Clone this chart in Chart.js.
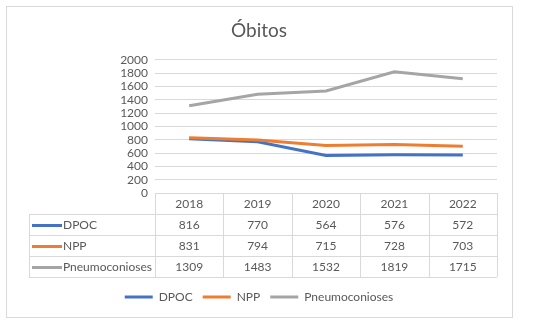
<!DOCTYPE html>
<html>
<head>
<meta charset="utf-8">
<title>Óbitos</title>
<script src="https://cdn.jsdelivr.net/npm/chart.js@4.4.1/dist/chart.umd.min.js"></script>
<style>
	html, body { margin: 0; padding: 0; background: #ffffff; }
	#myChart { display: block; }
</style>
</head>
<body>
<canvas id="myChart" width="546" height="330"></canvas>
<script>
// dados do gráfico
const anos = ['2018', '2019', '2020', '2021', '2022'];
const dpoc = [816, 770, 564, 576, 572];
const npp = [831, 794, 715, 728, 703];
const pneumoconioses = [1309, 1483, 1532, 1819, 1715];
const nomesSeries = ['DPOC', 'NPP', 'Pneumoconioses'];
const coresSeries = ['#4472C4', '#ED7D31', '#A5A5A5'];

const corTexto = '#595959';
const corGrade = '#D9D9D9';
const fonte = 'Lato, "Open Sans", sans-serif';

// moldura e fundo branco
const moldura = {
	id: 'moldura',
	beforeDraw(chart) {
		const c = chart.ctx;
		c.save();
		c.fillStyle = '#ffffff';
		c.fillRect(0, 0, chart.width, chart.height);
		c.strokeStyle = corGrade;
		c.lineWidth = 1;
		c.strokeRect(6.5, 6.5, 506, 311);
		c.restore();
	}
};

// tabela de dados embaixo do gráfico
const tabelaDados = {
	id: 'tabelaDados',
	afterDraw(chart) {
		const c = chart.ctx;
		const area = chart.chartArea;
		const xs = chart.scales.x;
		const larg = (area.right - area.left) / anos.length;
		const alt = 21;
		const topo = area.bottom;
		const esq = 29;
		const valores = [dpoc, npp, pneumoconioses];

		c.save();
		c.strokeStyle = corGrade;
		c.lineWidth = 1;
		c.beginPath();
		// linhas horizontais
		c.moveTo(area.left, topo + 0.5);
		c.lineTo(area.right, topo + 0.5);
		for (let i = 1; i <= 4; i++) {
			const y = Math.round(topo + i * alt) + 0.5;
			c.moveTo(esq, y);
			c.lineTo(area.right, y);
		}
		// linhas verticais
		for (let j = 0; j <= anos.length; j++) {
			const x = Math.round(area.left + j * larg) + 0.5;
			c.moveTo(x, topo);
			c.lineTo(x, topo + 4 * alt);
		}
		c.moveTo(esq + 0.5, topo + alt);
		c.lineTo(esq + 0.5, topo + 4 * alt);
		c.stroke();

		c.font = '12px ' + fonte;
		c.fillStyle = corTexto;
		c.textBaseline = 'middle';
		c.textAlign = 'center';
		anos.forEach(function(ano, j) {
			c.fillText(ano, xs.getPixelForValue(j), topo + alt / 2 + 1);
		});

		valores.forEach(function(serie, i) {
			const yMeio = topo + (i + 1) * alt + alt / 2 + 1;
			// chave da legenda
			c.strokeStyle = coresSeries[i];
			c.lineWidth = 3;
			c.beginPath();
			c.moveTo(32, yMeio);
			c.lineTo(62, yMeio);
			c.stroke();
			c.textAlign = 'left';
			c.fillText(nomesSeries[i], 63, yMeio);
			c.textAlign = 'center';
			serie.forEach(function(v, j) {
				c.fillText(String(v), xs.getPixelForValue(j), yMeio);
			});
		});
		c.restore();
	}
};

const ctx = document.getElementById('myChart').getContext('2d');

new Chart(ctx, {
	type: 'line',
	data: {
		labels: anos,
		datasets: [
			{ label: nomesSeries[0], data: dpoc, borderColor: coresSeries[0], backgroundColor: coresSeries[0], order: 3 },
			{ label: nomesSeries[1], data: npp, borderColor: coresSeries[1], backgroundColor: coresSeries[1], order: 2 },
			{ label: nomesSeries[2], data: pneumoconioses, borderColor: coresSeries[2], backgroundColor: coresSeries[2], order: 1 }
		]
	},
	options: {
		responsive: false,
		animation: false,
		datasets: {
			line: { borderWidth: 3, pointRadius: 0, pointStyle: 'line', tension: 0, fill: false }
		},
		layout: {
			padding: { left: 21, right: 49, top: 0, bottom: 17 }
		},
		plugins: {
			title: {
				display: true,
				text: 'Óbitos',
				color: corTexto,
				font: { family: fonte, size: 19, weight: 'normal' },
				padding: { top: 19, bottom: 18 }
			},
			legend: {
				position: 'bottom',
				labels: {
					usePointStyle: true,
					pointStyle: 'line',
					pointStyleWidth: 28,
					boxHeight: 12,
					color: corTexto,
					font: { family: fonte, size: 12 },
					padding: 10,
					sort: function(a, b) { return a.datasetIndex - b.datasetIndex; }
				}
			},
			tooltip: { enabled: false }
		},
		scales: {
			x: {
				offset: true,
				grid: { display: false },
				border: { display: false },
				ticks: { display: false },
				afterFit: function(s) { s.height = 88; }
			},
			y: {
				min: 0,
				max: 2000,
				ticks: {
					stepSize: 200,
					autoSkip: false,
					color: corTexto,
					font: { family: fonte, size: 12 },
					padding: 7,
					callback: function(v) { return String(v); }
				},
				grid: { color: corGrade, drawTicks: false },
				border: { display: false },
				afterFit: function(s) { s.width = 134; }
			}
		}
	},
	plugins: [moldura, tabelaDados]
});
</script>
</body>
</html>
